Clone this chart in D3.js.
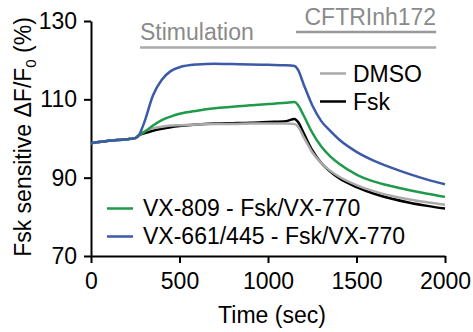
<!DOCTYPE html>
<html>
<head>
<meta charset="utf-8">
<script src="https://cdn.jsdelivr.net/npm/d3@7"></script>
<style>
  body { margin: 0; background: #fff; }
  text { font-family: "Liberation Sans", Arial, sans-serif; }
</style>
</head>
<body>
<div id="chart"></div>
<script>
// time points (sec)
var times = [0, 100, 200, 250, 270, 300, 350, 400, 450, 500, 600, 700, 800, 900, 1000, 1100, 1150, 1170, 1200, 1250, 1300, 1350, 1400, 1500, 1600, 1700, 1800, 1900, 2000];

var dmso = [98.8, 99.4, 99.8, 100.1, 100.8, 101.8, 102.6, 103.0, 103.3, 103.4, 103.6, 103.7, 103.7, 103.8, 103.8, 103.8, 103.7, 103.0, 100.5, 96.5, 93.8, 91.8, 90.3, 88.1, 86.5, 85.3, 84.4, 83.7, 83.1];
var fsk = [98.8, 99.4, 99.8, 100.1, 100.8, 101.3, 102.0, 102.5, 102.9, 103.2, 103.6, 103.8, 103.9, 104.0, 104.2, 104.4, 105.0, 104.2, 101.5, 97.0, 93.8, 91.6, 89.9, 87.6, 85.9, 84.6, 83.6, 82.8, 82.1];
var vx809 = [98.8, 99.4, 99.8, 100.1, 100.8, 101.6, 103.3, 104.7, 105.6, 106.3, 107.1, 107.7, 108.1, 108.5, 108.8, 109.1, 109.3, 108.5, 106.0, 101.5, 98.0, 95.5, 93.6, 90.8, 89.0, 87.8, 86.8, 85.9, 85.1];
var vx661 = [98.8, 99.4, 99.8, 100.1, 100.8, 104.0, 111.0, 115.0, 117.2, 118.2, 118.9, 119.1, 119.0, 118.9, 118.8, 118.7, 118.5, 117.5, 114.0, 108.5, 104.5, 102.0, 99.8, 96.6, 94.3, 92.5, 90.9, 89.5, 88.3];

var xTicks = [0, 500, 1000, 1500, 2000];
var yTicks = [70, 90, 110, 130];

var series = [
    {name: 'Fsk', values: fsk, color: '#000000'},
    {name: 'DMSO', values: dmso, color: '#aaaaaa'},
    {name: 'VX-809 - Fsk/VX-770', values: vx809, color: '#1f9a4b'},
    {name: 'VX-661/445 - Fsk/VX-770', values: vx661, color: '#3c5aa8'}
];

var width = 473, height = 332;
var margin = {top: 21, right: 28, bottom: 76, left: 91};
var fontSize = 23;

var svg = d3.select('#chart').append('svg')
    .attr('width', width)
    .attr('height', height);

var x = d3.scaleLinear().domain([0, 2000]).range([margin.left, width - margin.right]);
var y = d3.scaleLinear().domain([70, 130]).range([height - margin.bottom, margin.top]);

// axes
var xAxis = svg.append('g')
    .attr('transform', 'translate(0,' + y(70) + ')')
    .call(d3.axisBottom(x).tickValues(xTicks).tickFormat(d3.format('d'))
        .tickSize(7).tickSizeOuter(0).tickPadding(10));
var yAxis = svg.append('g')
    .attr('transform', 'translate(' + x(0) + ',0)')
    .call(d3.axisLeft(y).tickValues(yTicks).tickFormat(d3.format('d'))
        .tickSize(7).tickSizeOuter(0).tickPadding(7));

[xAxis, yAxis].forEach(function(a) {
    a.selectAll('path, line').attr('stroke', '#000').attr('stroke-width', 2);
    a.selectAll('text').attr('font-size', fontSize).attr('fill', '#000')
        .style('font-family', '"Liberation Sans", Arial, sans-serif');
});

// lines
var line = d3.line()
    .x(function(d, i) { return x(times[i]); })
    .y(function(d) { return y(d); })
    .curve(d3.curveMonotoneX);

svg.selectAll('.series')
    .data(series)
    .enter().append('path')
    .attr('class', 'series')
    .attr('fill', 'none')
    .attr('stroke', function(d) { return d.color; })
    .attr('stroke-width', 2.5)
    .attr('d', function(d) { return line(d.values); });

// annotation bars
svg.append('line')
    .attr('x1', x(277)).attr('x2', x(1950))
    .attr('y1', 47.5).attr('y2', 47.5)
    .attr('stroke', '#aaaaaa').attr('stroke-width', 2.5);
svg.append('text')
    .attr('x', x(277)).attr('y', 40)
    .attr('font-size', fontSize).attr('fill', '#8a8a8a')
    .text('Stimulation');

svg.append('line')
    .attr('x1', x(1158)).attr('x2', x(1950))
    .attr('y1', 32).attr('y2', 32)
    .attr('stroke', '#999999').attr('stroke-width', 2.5);
svg.append('text')
    .attr('x', x(1950)).attr('y', 25)
    .attr('text-anchor', 'end')
    .attr('font-size', fontSize).attr('fill', '#8a8a8a')
    .text('CFTRInh172');

// legends
var legendTop = [series[1], series[0]];
var legendBottom = [series[2], series[3]];

legendTop.forEach(function(s, i) {
    var ly = 73.5 + i * 28;
    svg.append('line').attr('x1', 320).attr('x2', 346).attr('y1', ly).attr('y2', ly)
        .attr('stroke', s.color).attr('stroke-width', 2.5);
    svg.append('text').attr('x', 353).attr('y', ly + 8)
        .attr('font-size', fontSize).attr('fill', '#000').text(s.name);
});

legendBottom.forEach(function(s, i) {
    var ly = 208.5 + i * 28;
    svg.append('line').attr('x1', 107).attr('x2', 133).attr('y1', ly).attr('y2', ly)
        .attr('stroke', s.color).attr('stroke-width', 2.5);
    svg.append('text').attr('x', 143).attr('y', ly + 7)
        .attr('font-size', fontSize).attr('fill', '#000').text(s.name);
});

// axis titles
svg.append('text')
    .attr('x', 272).attr('y', 323)
    .attr('text-anchor', 'middle')
    .attr('font-size', fontSize)
    .text('Time (sec)');

var yTitle = svg.append('text')
    .attr('transform', 'translate(31,137) rotate(-90)')
    .attr('text-anchor', 'middle')
    .attr('font-size', fontSize);
yTitle.append('tspan').text('Fsk sensitive ΔF/F');
yTitle.append('tspan').attr('font-size', 15).attr('dy', 5).text('0');
yTitle.append('tspan').attr('dy', -5).text(' (%)');
</script>
</body>
</html>
